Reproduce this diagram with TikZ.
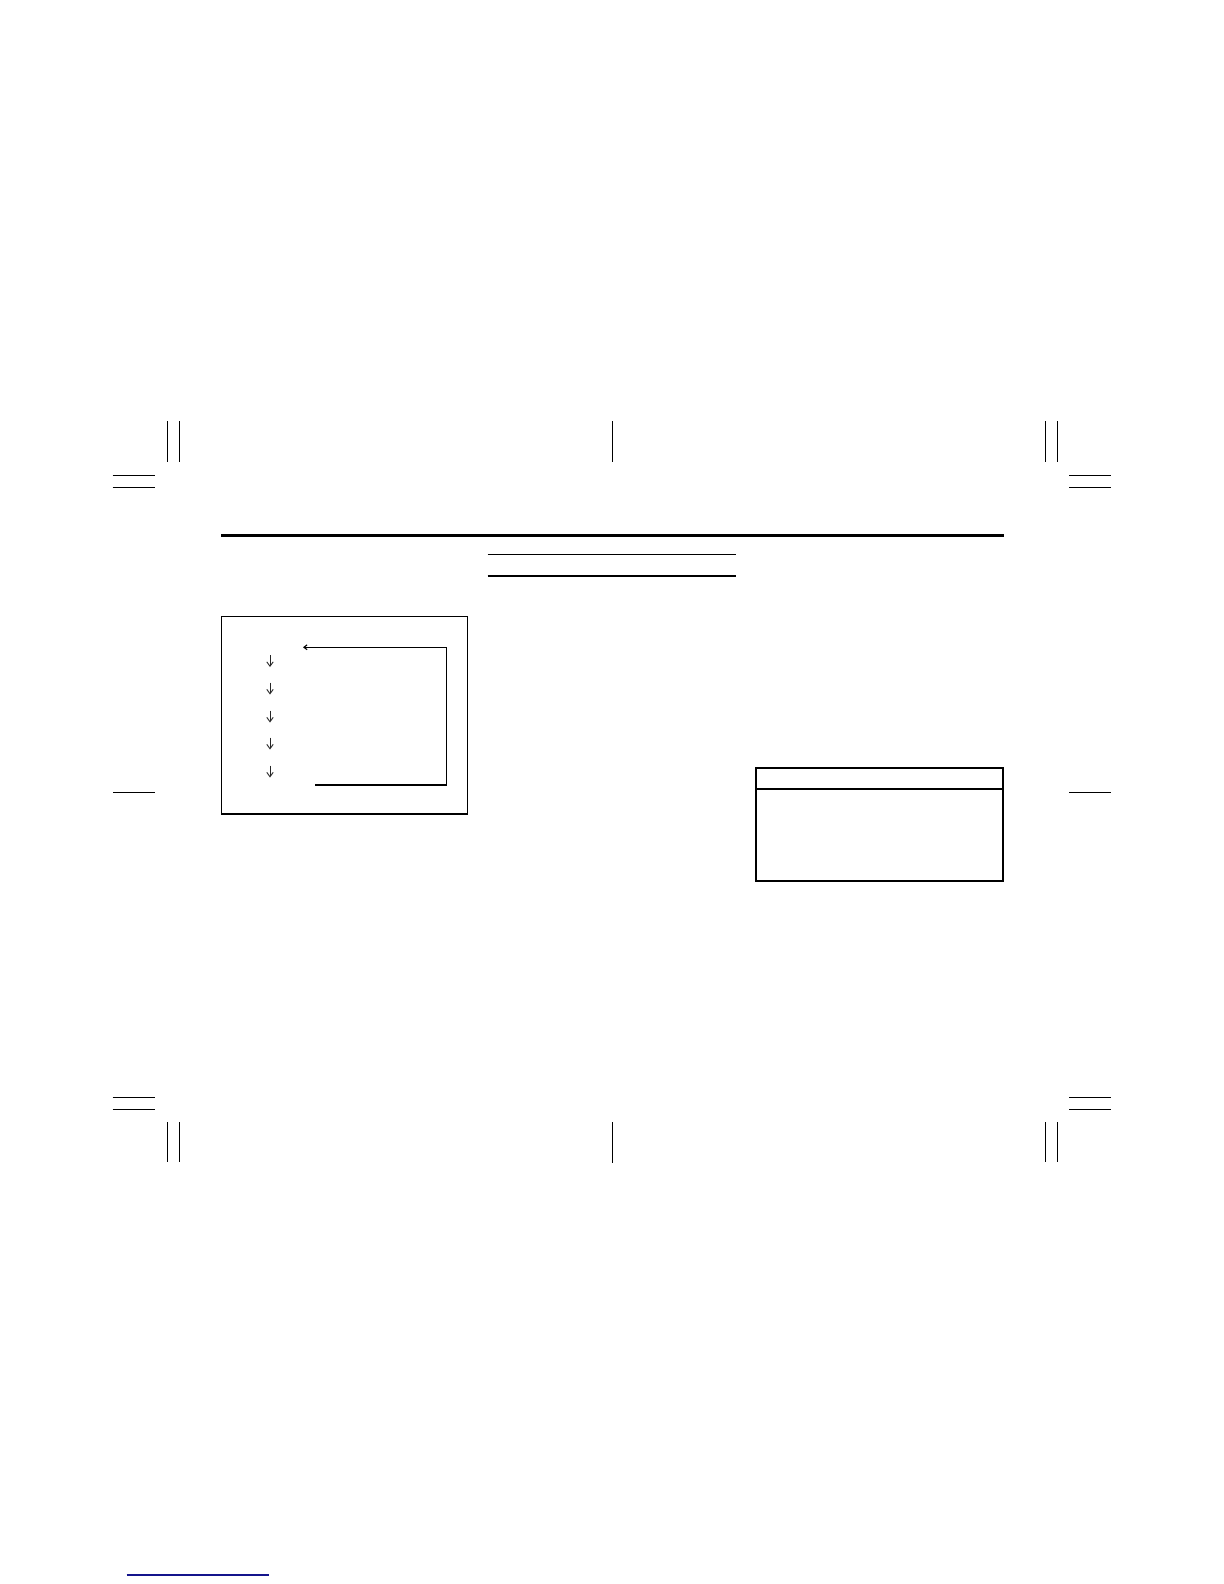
\documentclass[tikz,border=0pt]{standalone}
\usetikzlibrary{arrows.meta}
\definecolor{linkblue}{RGB}{20,20,140}
\begin{document}
\begin{tikzpicture}[x=0.5pt,y=-0.5pt,
  crop/.style={line width=0.65pt,black},
  rulethin/.style={line width=0.6pt,black},
  rulethick/.style={line width=1.1pt,black},
  boxline/.style={line width=0.55pt,black},
  tblline/.style={line width=0.95pt,black},
  loopline/.style={line width=0.55pt,black},
  downarrow/.style={line width=0.45pt,black!85,-{Straight Barb[length=2.2pt,width=3.2pt]}},
  looparrow/.style={line width=0.55pt,black,-{Straight Barb[length=1.6pt,width=2.4pt]}}]
\useasboundingbox[fill=white] (0,0) rectangle (1224,1584);
% crop marks top-left
\draw[crop] (167.3,421) -- (167.3,461.7);
\draw[crop] (179.3,421) -- (179.3,461.7);
\draw[crop] (112.7,475.3) -- (155,475.3);
\draw[crop] (112.7,487.3) -- (155,487.3);
% top-right
\draw[crop] (1045.7,421) -- (1045.7,461.7);
\draw[crop] (1057.3,421) -- (1057.3,461.7);
\draw[crop] (1069.3,475.3) -- (1110.7,475.3);
\draw[crop] (1069.3,487.3) -- (1110.7,487.3);
% top centre
\draw[crop] (612.3,421) -- (612.3,461.7);
% middle
\draw[crop] (113.3,792.3) -- (155,792.3);
\draw[crop] (1069,792.3) -- (1110.7,792.3);
% bottom-left
\draw[crop] (112.7,1097.3) -- (155,1097.3);
\draw[crop] (112.7,1109.3) -- (155,1109.3);
\draw[crop] (167.3,1122) -- (167.3,1162.3);
\draw[crop] (179.3,1122) -- (179.3,1162.3);
% bottom-right
\draw[crop] (1069.3,1097.3) -- (1110.7,1097.3);
\draw[crop] (1069.3,1109.3) -- (1110.7,1109.3);
\draw[crop] (1045.7,1122) -- (1045.7,1162.3);
\draw[crop] (1057.3,1122) -- (1057.3,1162.3);
% bottom centre
\draw[crop] (612.3,1122) -- (612.3,1162.7);
% header rule
\draw[rulethick] (221,535.5) -- (1003.5,535.5);
% title underlines
\draw[rulethin] (487.7,554.3) -- (735.7,554.3);
\draw[rulethin] (487.7,576) -- (735.7,576);
% left box
\draw[boxline] (221.3,616.3) rectangle (467.7,814);
% loop
\coordinate (loopstart) at (315,785);
\coordinate (loopbr) at (446.3,785);
\coordinate (looptr) at (446.3,647.3);
\coordinate (loopend) at (303,647.3);
\draw[loopline] (loopstart) -- (loopbr) -- (looptr);
\draw[looparrow] (looptr) -- (loopend);
% down arrows
\foreach \i/\ya/\yb in {1/655/667,2/682.7/694.5,3/710.7/722.5,4/737.7/749.5,5/765.7/777.5}{
  \coordinate (a\i) at (270,\ya);
  \coordinate (b\i) at (270,\yb);
  \draw[downarrow] (a\i) -- (b\i);
}
% right table
\draw[tblline] (755.7,767.7) rectangle (1003.3,880.7);
\coordinate (divl) at (755.7,788.7);
\coordinate (divr) at (1003.3,788.7);
\draw[tblline] (divl) -- (divr);
% link underline
\draw[line width=0.6pt,linkblue] (126.7,1575) -- (269,1575);
\end{tikzpicture}
\end{document}
